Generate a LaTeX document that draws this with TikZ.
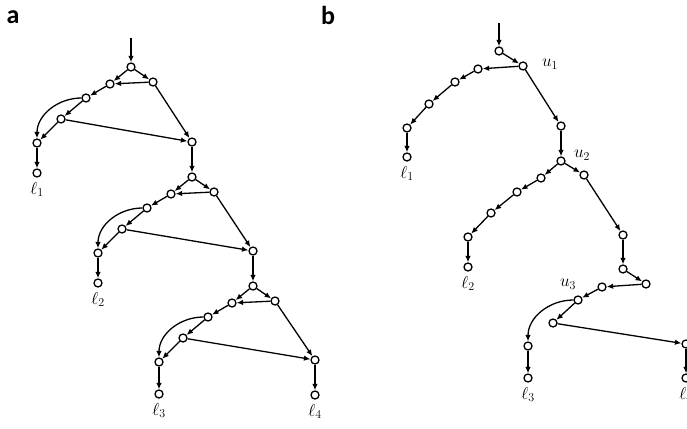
\documentclass[tikz,border=0pt]{standalone}
\usepackage{fontspec}
\usepackage{amsmath}
\newfontfamily\panelfont{Carlito}
\usetikzlibrary {positioning}
\usetikzlibrary{arrows.meta}

\begin{document}
\begin{tikzpicture}[x=1pt, y=-1pt, every node/.style=draw,
    vtx/.style={circle, draw, line width=1.3pt, fill=white,
          inner sep=0pt, minimum size=8pt},
    lbl/.style={draw=none, inner sep=1pt, font=\LARGE},
    panel/.style={draw=none, inner sep=0pt, font=\panelfont\bfseries\fontsize{26}{28}\selectfont},
    >={Latex[length=6.5pt,width=5.5pt]}, line width=1.3pt]
   \useasboundingbox (0,0) rectangle (687,428);

   \node[panel] (pa) at (13,17) {a};
   \node[panel] (pb) at (328,15) {b};

   % panel a, first block
   \coordinate (ain) at (131,38);
   \node[vtx] (t1) at (131,67) {};
   \node[vtx] (l1) at (110,84) {};
   \node[vtx] (r1) at (153,82) {};
   \node[vtx] (m1) at (86,98) {};
   \node[vtx] (n1) at (61,119) {};
   \node[vtx] (p1) at (37,143) {};
   \node[vtx] (f1) at (37,173) {};
   \node[vtx] (o1) at (192,142) {};
   % second block
   \node[vtx] (t2) at (192,177) {};
   \node[vtx] (l2) at (171,194) {};
   \node[vtx] (r2) at (214,192) {};
   \node[vtx] (m2) at (147,208) {};
   \node[vtx] (n2) at (122,229) {};
   \node[vtx] (p2) at (98,253) {};
   \node[vtx] (f2) at (98,283) {};
   \node[vtx] (o2) at (253,251) {};
   % third block
   \node[vtx] (t3) at (253,286) {};
   \node[vtx] (l3) at (232,303) {};
   \node[vtx] (r3) at (275,301) {};
   \node[vtx] (m3) at (208,317) {};
   \node[vtx] (n3) at (183,338) {};
   \node[vtx] (p3) at (159,362) {};
   \node[vtx] (f3) at (159,394) {};
   \node[vtx] (o3) at (315,360) {};
   \node[vtx] (f4) at (315,395) {};

   \node[lbl, below=3pt of f1] (la1) {$\ell_1$};
   \node[lbl, below=3pt of f2] (la2) {$\ell_2$};
   \node[lbl, below=3pt of f3] (la3) {$\ell_3$};
   \node[lbl, below=3pt of f4] (la4) {$\ell_4$};

   \draw [->] (ain) -- (t1);
   \draw [->] (t1) -- (l1);
   \draw [->] (t1) -- (r1);
   \draw [->] (r1) -- (l1);
   \draw [->] (l1) -- (m1);
   \draw [->] (m1.west) to [out=180, in=90] (p1.north);
   \draw [->] (m1) -- (n1);
   \draw [->] (n1) -- (p1);
   \draw [->] (n1) -- (o1);
   \draw [->] (r1) -- (o1);
   \draw [->] (p1) -- (f1);
   \draw [->] (o1) -- (t2);

   \draw [->] (t2) -- (l2);
   \draw [->] (t2) -- (r2);
   \draw [->] (r2) -- (l2);
   \draw [->] (l2) -- (m2);
   \draw [->] (m2.west) to [out=180, in=90] (p2.north);
   \draw [->] (m2) -- (n2);
   \draw [->] (n2) -- (p2);
   \draw [->] (n2) -- (o2);
   \draw [->] (r2) -- (o2);
   \draw [->] (p2) -- (f2);
   \draw [->] (o2) -- (t3);

   \draw [->] (t3) -- (l3);
   \draw [->] (t3) -- (r3);
   \draw [->] (r3) -- (l3);
   \draw [->] (l3) -- (m3);
   \draw [->] (m3.west) to [out=180, in=90] (p3.north);
   \draw [->] (m3) -- (n3);
   \draw [->] (n3) -- (p3);
   \draw [->] (n3) -- (o3);
   \draw [->] (r3) -- (o3);
   \draw [->] (p3) -- (f3);
   \draw [->] (o3) -- (f4);

   % panel b
   \coordinate (bin) at (499,23);
   \node[vtx] (bs) at (499,51) {};
   \node[vtx] (bu1) at (523,66) {};
   \node[vtx] (bc1) at (478,69) {};
   \node[vtx] (bc2) at (455,82) {};
   \node[vtx] (bc3) at (429,104) {};
   \node[vtx] (bc4) at (407,128) {};
   \node[vtx] (bf1) at (407,157) {};
   \node[vtx] (bd) at (561,126) {};
   \node[vtx] (bu2) at (561,161) {};
   \node[vtx] (be1) at (541,178) {};
   \node[vtx] (be2) at (517,192) {};
   \node[vtx] (be3) at (491,213) {};
   \node[vtx] (be4) at (468,237) {};
   \node[vtx] (bf2) at (468,267) {};
   \node[vtx] (br1) at (584,175) {};
   \node[vtx] (br2) at (623,235) {};
   \node[vtx] (br3) at (623,269) {};
   \node[vtx] (br4) at (646,284) {};
   \node[vtx] (br5) at (602,287) {};
   \node[vtx] (bu3) at (578,300) {};
   \node[vtx] (bn) at (553,323) {};
   \node[vtx] (bp) at (528,346) {};
   \node[vtx] (bf3) at (528,378) {};
   \node[vtx] (bo) at (686,344) {};
   \node[vtx] (bf4) at (686,378) {};

   \node[lbl] (lu1) at (550,64) {$u_1$};
   \node[lbl] (lu2) at (582,155) {$u_2$};
   \node[lbl] (lu3) at (568,284) {$u_3$};
   \node[lbl, below=3pt of bf1] (lb1) {$\ell_1$};
   \node[lbl, below=3pt of bf2] (lb2) {$\ell_2$};
   \node[lbl, below=3pt of bf3] (lb3) {$\ell_3$};
   \node[lbl, below=3pt of bf4] (lb4) {$\ell_4$};

   \draw [->] (bin) -- (bs);
   \draw [->] (bs) -- (bu1);
   \draw [->] (bu1) -- (bc1);
   \draw [->] (bc1) -- (bc2);
   \draw [->] (bc2) -- (bc3);
   \draw [->] (bc3) -- (bc4);
   \draw [->] (bc4) -- (bf1);
   \draw [->] (bu1) -- (bd);
   \draw [->] (bd) -- (bu2);
   \draw [->] (bu2) -- (be1);
   \draw [->] (be1) -- (be2);
   \draw [->] (be2) -- (be3);
   \draw [->] (be3) -- (be4);
   \draw [->] (be4) -- (bf2);
   \draw [->] (bu2) -- (br1);
   \draw [->] (br1) -- (br2);
   \draw [->] (br2) -- (br3);
   \draw [->] (br3) -- (br4);
   \draw [->] (br4) -- (br5);
   \draw [->] (br5) -- (bu3);
   \draw [->] (bu3.west) to [out=180, in=90] (bp.north);
   \draw [->] (bu3) -- (bn);
   \draw [->] (bn) -- (bo);
   \draw [->] (bp) -- (bf3);
   \draw [->] (bo) -- (bf4);
\end{tikzpicture}
\end{document}
